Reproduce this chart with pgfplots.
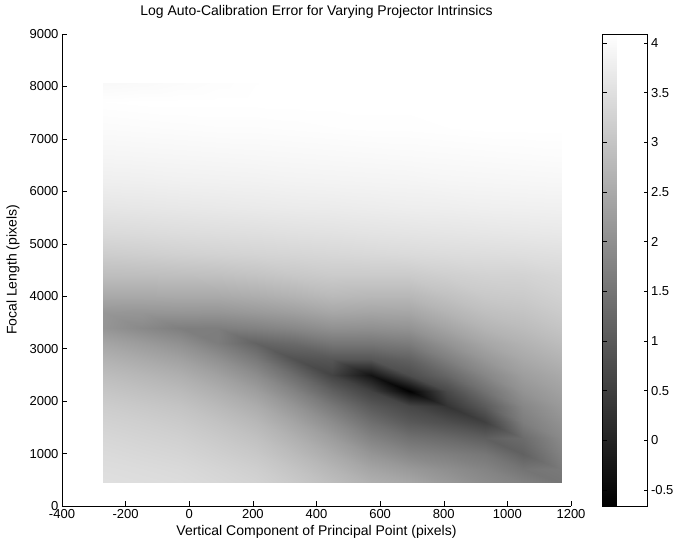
\documentclass[border=0pt]{standalone}
\usepackage{fontspec}
\setmainfont{Liberation Sans}
\usepackage{pgfplots}
\pgfplotsset{compat=1.18}
\usepackage{pgfplotstable}

% log error, sampled on a 13 x 22 grid (x = principal point, y = focal length)
\pgfplotstableread{
x y v
-270 444 3.50
-150 444 3.47
-30 444 3.44
90 444 3.36
210 444 3.27
330 444 3.09
450 444 2.87
570 444 2.62
690 444 2.46
810 444 2.20
930 444 1.95
1050 444 1.75
1170 444 1.52
-270 700 3.46
-150 700 3.43
-30 700 3.39
90 700 3.30
210 700 3.19
330 700 2.98
450 700 2.72
570 700 2.41
690 700 2.20
810 700 2.00
930 700 1.80
1050 700 1.50
1170 700 1.60
-270 1000 3.41
-150 1000 3.36
-30 1000 3.31
90 1000 3.20
210 1000 3.07
330 1000 2.82
450 1000 2.51
570 1000 2.12
690 1000 1.84
810 1000 1.70
930 1000 1.55
1050 1000 1.15
1170 1000 1.75
-270 1300 3.34
-150 1300 3.28
-30 1300 3.22
90 1300 3.09
210 1300 2.93
330 1300 2.63
450 1300 2.26
570 1300 1.77
690 1300 1.45
810 1300 1.30
930 1300 1.10
1050 1300 1.35
1170 1300 1.90
-270 1600 3.25
-150 1600 3.19
-30 1600 3.11
90 1600 2.96
210 1600 2.76
330 1600 2.40
450 1600 1.95
570 1600 1.40
690 1600 1.00
810 1600 0.80
930 1600 0.53
1050 1600 1.67
1170 1600 2.05
-270 1900 3.15
-150 1900 3.07
-30 1900 2.98
90 1900 2.79
210 1900 2.55
330 1900 2.12
450 1900 1.58
570 1900 1.00
690 1900 0.65
810 1900 0.30
930 1900 1.03
1050 1900 1.85
1170 1900 2.20
-270 2200 3.02
-150 2200 2.92
-30 2200 2.81
90 2200 2.59
210 2200 2.29
330 2200 1.78
450 2200 1.13
570 2200 0.55
690 2200 -0.63
810 2200 0.70
930 2200 1.46
1050 2200 2.08
1170 2200 2.35
-270 2500 2.86
-150 2500 2.74
-30 2500 2.60
90 2500 2.34
210 2500 1.97
330 2500 1.36
450 2500 0.59
570 2500 -0.30
690 2500 0.75
810 2500 1.25
930 2500 1.84
1050 2500 2.28
1170 2500 2.50
-270 2800 2.66
-150 2800 2.51
-30 2800 2.34
90 2800 2.03
210 2800 1.59
330 2800 0.86
450 2800 0.95
570 2800 0.95
690 2800 1.15
810 2800 1.70
930 2800 2.16
1050 2800 2.48
1170 2800 2.68
-270 3100 2.42
-150 3100 2.24
-30 3100 2.03
90 3100 1.66
210 3100 1.19
330 3100 1.32
450 3100 1.55
570 3100 1.55
690 3100 1.65
810 3100 2.08
930 3100 2.44
1050 3100 2.66
1170 3100 2.85
-270 3400 2.12
-150 3400 1.90
-30 3400 1.70
90 3400 1.68
210 3400 1.75
330 3400 1.87
450 3400 2.04
570 3400 2.02
690 3400 2.08
810 3400 2.40
930 3400 2.69
1050 3400 2.83
1170 3400 3.00
-270 3700 2.15
-150 3700 2.13
-30 3700 2.14
90 3700 2.13
210 3700 2.21
330 3700 2.31
450 3700 2.46
570 3700 2.42
690 3700 2.44
810 3700 2.69
930 3700 2.90
1050 3700 2.98
1170 3700 3.13
-270 4000 2.49
-150 4000 2.49
-30 4000 2.51
90 4000 2.51
210 4000 2.58
330 4000 2.68
450 4000 2.80
570 4000 2.76
690 4000 2.76
810 4000 2.93
930 4000 3.08
1050 4000 3.12
1170 4000 3.24
-270 4400 2.87
-150 4400 2.88
-30 4400 2.90
90 4400 2.92
210 4400 2.98
330 4400 3.06
450 4400 3.12
570 4400 3.12
690 4400 3.12
810 4400 3.20
930 4400 3.26
1050 4400 3.27
1170 4400 3.35
-270 4800 3.16
-150 4800 3.19
-30 4800 3.23
90 4800 3.26
210 4800 3.29
330 4800 3.32
450 4800 3.35
570 4800 3.38
690 4800 3.41
810 4800 3.44
930 4800 3.46
1050 4800 3.48
1170 4800 3.51
-270 5200 3.40
-150 5200 3.42
-30 5200 3.45
90 5200 3.47
210 5200 3.49
330 5200 3.52
450 5200 3.54
570 5200 3.57
690 5200 3.59
810 5200 3.61
930 5200 3.63
1050 5200 3.65
1170 5200 3.67
-270 5700 3.62
-150 5700 3.64
-30 5700 3.66
90 5700 3.68
210 5700 3.70
330 5700 3.72
450 5700 3.73
570 5700 3.75
690 5700 3.77
810 5700 3.78
930 5700 3.80
1050 5700 3.81
1170 5700 3.82
-270 6200 3.79
-150 6200 3.80
-30 6200 3.82
90 6200 3.83
210 6200 3.84
330 6200 3.86
450 6200 3.87
570 6200 3.88
690 6200 3.89
810 6200 3.91
930 6200 3.92
1050 6200 3.93
1170 6200 3.94
-270 6700 3.91
-150 6700 3.92
-30 6700 3.93
90 6700 3.94
210 6700 3.95
330 6700 3.96
450 6700 3.97
570 6700 3.98
690 6700 3.99
810 6700 4.00
930 6700 4.01
1050 6700 4.02
1170 6700 4.03
-270 7200 4.01
-150 7200 4.02
-30 7200 4.03
90 7200 4.04
210 7200 4.04
330 7200 4.05
450 7200 4.06
570 7200 4.07
690 7200 4.07
810 7200 4.08
930 7200 4.09
1050 7200 4.09
1170 7200 4.10
-270 7700 4.08
-150 7700 4.09
-30 7700 4.10
90 7700 4.10
210 7700 4.11
330 7700 4.11
450 7700 4.12
570 7700 4.12
690 7700 4.13
810 7700 4.13
930 7700 4.14
1050 7700 4.14
1170 7700 4.15
-270 8060 3.97
-150 8060 3.99
-30 8060 4.02
90 8060 4.05
210 8060 4.08
330 8060 4.14
450 8060 4.15
570 8060 4.15
690 8060 4.16
810 8060 4.16
930 8060 4.17
1050 8060 4.17
1170 8060 4.18
}\errtable

\begin{document}
\begin{tikzpicture}
\begin{axis}[
    width=509bp, height=472bp, scale only axis,
    xmin=-400, xmax=1200, ymin=0, ymax=9000,
    xtick={-400,-200,...,1200}, ytick={0,1000,...,9000},
    axis x line*=bottom, axis y line*=left,
    axis line style={black, line width=0.5pt},
    tick align=inside, major tick length=5bp,
    tick style={black, line width=0.5pt},
    /pgf/number format/1000 sep={},
    /pgf/number format/assume math mode=true,
    tick label style={font=\fontsize{13bp}{15bp}\selectfont},
    title style={font=\fontsize{14bp}{16bp}\selectfont, at={(axis description cs:0.5,1)}, anchor=base, yshift=13bp},
    title={Log Auto-Calibration Error for Varying Projector Intrinsics},
    xlabel={Vertical Component of Principal Point (pixels)},
    ylabel={Focal Length (pixels)},
    every axis x label/.style={at={(axis description cs:0.5,0)}, anchor=base, yshift=-29bp, font=\fontsize{14bp}{16bp}\selectfont},
    every axis y label/.style={at={(axis description cs:0,0.5)}, anchor=center, rotate=90, yshift=49bp, font=\fontsize{14bp}{16bp}\selectfont},
    colormap/blackwhite,
    point meta min=-0.66, point meta max=4.09,
    colorbar,
    colorbar style={
        at={(parent axis.north east)}, anchor=north west, xshift=23bp,
        width=45bp,
        ytick={-0.5,0,0.5,1,1.5,2,2.5,3,3.5,4},
        ytick pos=both, yticklabel pos=right,
        tick align=inside, major tick length=4bp,
        axis line style={black, line width=0.5pt},
        tick label style={font=\fontsize{13bp}{15bp}\selectfont},
        /pgf/number format/assume math mode=true,
    },
]
\addplot[surf, shader=interp, mesh/cols=13, point meta=explicit]
    table[x=x, y=y, meta=v] {\errtable};
\end{axis}
\pgfresetboundingbox
\path[use as bounding box] (-62bp,-38bp) rectangle (613bp,506bp);
\end{tikzpicture}
\end{document}
